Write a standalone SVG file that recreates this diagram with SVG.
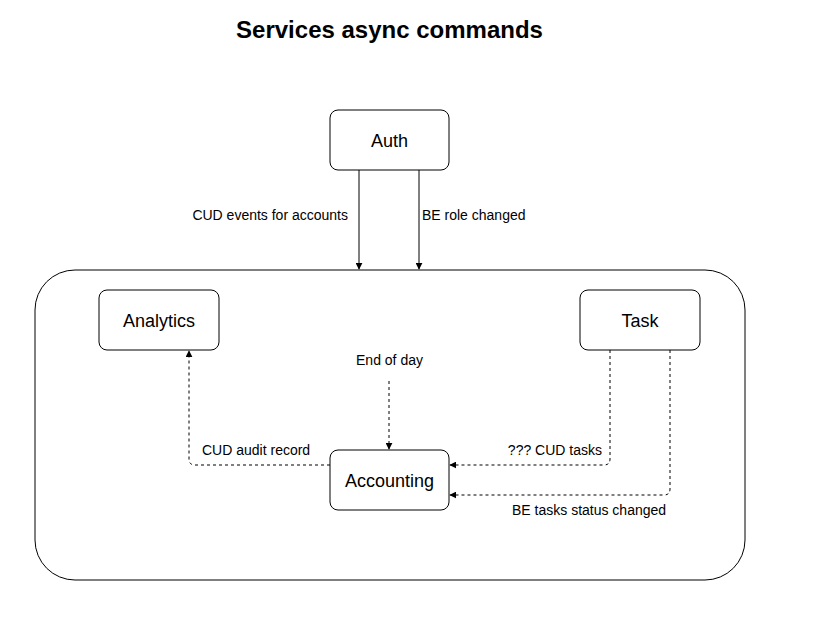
<svg xmlns="http://www.w3.org/2000/svg" width="827" height="638" viewBox="0 0 827 638">
<defs>
<marker id="arr" viewBox="0 0 10 10" refX="9" refY="5" markerWidth="7" markerHeight="7" orient="auto" markerUnits="userSpaceOnUse">
<path d="M0,0 L10,5 L0,10 Z" fill="#000"/>
</marker>
<style>
.node{fill:#fff;stroke:#000;stroke-width:1}
.nt{font-family:"Liberation Sans",Arial,sans-serif;font-size:18px;fill:#000;text-anchor:middle}
.el{font-family:"Liberation Sans",Arial,sans-serif;font-size:14px;fill:#000}
.e{fill:none;stroke:#000;stroke-width:1}
.d{stroke-dasharray:3 3}
</style>
</defs>
<rect width="827" height="638" fill="#fff"/>
<text x="389.5" y="38" font-family="'Liberation Sans',Arial,sans-serif" font-size="24" font-weight="bold" text-anchor="middle">Services async commands</text>
<g id="container"><rect x="35" y="270" width="710" height="310" rx="40" class="node"/></g>
<g id="auth"><rect x="330" y="110" width="119" height="60" rx="8" class="node"/><text x="389.5" y="147" class="nt">Auth</text></g>
<g id="analytics"><rect x="99" y="290" width="120" height="60" rx="8" class="node"/><text x="159" y="327" class="nt">Analytics</text></g>
<g id="task"><rect x="580" y="290" width="120" height="60" rx="8" class="node"/><text x="640" y="327" class="nt">Task</text></g>
<g id="accounting"><rect x="330" y="450" width="119" height="60" rx="8" class="node"/><text x="389.5" y="487" class="nt">Accounting</text></g>
<g id="connectors">
<path class="e" d="M359,170 V269" marker-end="url(#arr)"/>
<path class="e" d="M419,170 V269" marker-end="url(#arr)"/>
<path class="e d" d="M389,381 V449" marker-end="url(#arr)"/>
<path class="e d" d="M330,465 H195 Q189,465 189,459 V351" marker-end="url(#arr)"/>
<path class="e d" d="M610,350 V459 Q610,465 604,465 H450" marker-end="url(#arr)"/>
<path class="e d" d="M670,350 V489 Q670,495 664,495 H450" marker-end="url(#arr)"/>
<text x="348" y="220" class="el" text-anchor="end">CUD events for accounts</text>
<text x="422" y="220" class="el">BE role changed</text>
<text x="389.5" y="365" class="el" text-anchor="middle">End of day</text>
<text x="202" y="455" class="el">CUD audit record</text>
<text x="602" y="455" class="el" text-anchor="end">??? CUD tasks</text>
<text x="512" y="515" class="el">BE tasks status changed</text>
</g>
</svg>
